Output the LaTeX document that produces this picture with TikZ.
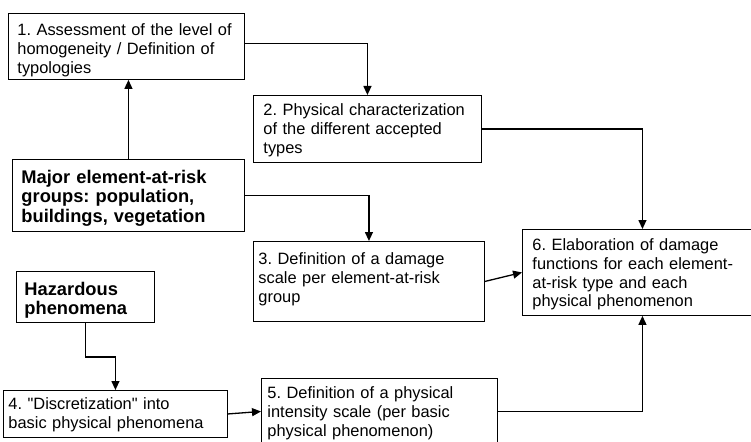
\documentclass[tikz,border=0pt]{standalone}
\usepackage{fontspec}
\setmainfont{Liberation Sans}[Ligatures=TeXOff]
\usetikzlibrary{arrows.meta}
\tikzset{
  box/.style={draw, line width=0.9pt, anchor=north west, inner ysep=0pt, align=left,
    font=\frenchspacing\fontsize{16.4}{18.8}\selectfont},
  boldbox/.style={box, font=\frenchspacing\fontsize{18.3}{19.5}\selectfont\bfseries},
  arr/.style={line width=1.3pt, -{Triangle[length=9pt,width=8pt]}},
}
\begin{document}
\begin{tikzpicture}[x=1pt,y=-1pt]
\useasboundingbox (0,0) rectangle (751,441);
\node[box, inner xsep=9pt, text width=218pt, text height=22pt, text depth=44pt] (b1) at (8,13)
  {1. Assessment of the level of\\homogeneity / Definition of\\typologies};
\node[box, inner xsep=10pt, text width=208pt, text height=20pt, text depth=47pt] (b2) at (253,95)
  {2. Physical characterization\\of the different accepted\\types};
\node[boldbox, inner xsep=9pt, text width=214pt, text height=24pt, text depth=48pt] (bm) at (12,159)
  {Major element-at-risk\\groups: population,\\buildings, vegetation};
\node[box, inner xsep=5pt, text width=221pt, text height=23pt, text depth=57pt] (b3) at (253,241)
  {3. Definition of a damage\\scale per element-at-risk\\group};
\node[box, inner xsep=10pt, text width=220pt, text height=21pt, text depth=65pt] (b6) at (522,229)
  {6. Elaboration of damage\\functions for each element-\\at-risk type and each\\physical phenomenon};
\node[boldbox, inner xsep=8pt, text width=122pt, text height=24pt, text depth=27pt] (hz) at (16,271)
  {Hazardous\\phenomena};
\node[box, inner xsep=5pt, text width=214pt, text height=19pt, text depth=28pt] (b4) at (3,390)
  {4. "Discretization" into\\basic physical phenomena};
\node[box, inner xsep=6pt, text width=224pt, text height=20pt, text depth=46pt] (b5) at (261,378)
  {5. Definition of a physical\\intensity scale (per basic\\physical phenomenon)};
\draw[arr] ([yshift=3pt]b1.east) -| (b2.north);
\draw[arr] (b2.east) -| (b6.north);
\draw[arr] (bm.north) -- (bm.north |- b1.south);
\draw[arr] (bm.east) -| (b3.north);
\draw[arr] (b3.east) -- (b6.west);
\draw[arr] (hz.south) -- ++(0,34) -| (b4.north);
\draw[arr] (b4.east) -- (b5.west);
\draw[arr] (b5.east) -| (b6.south);
\end{tikzpicture}
\end{document}
